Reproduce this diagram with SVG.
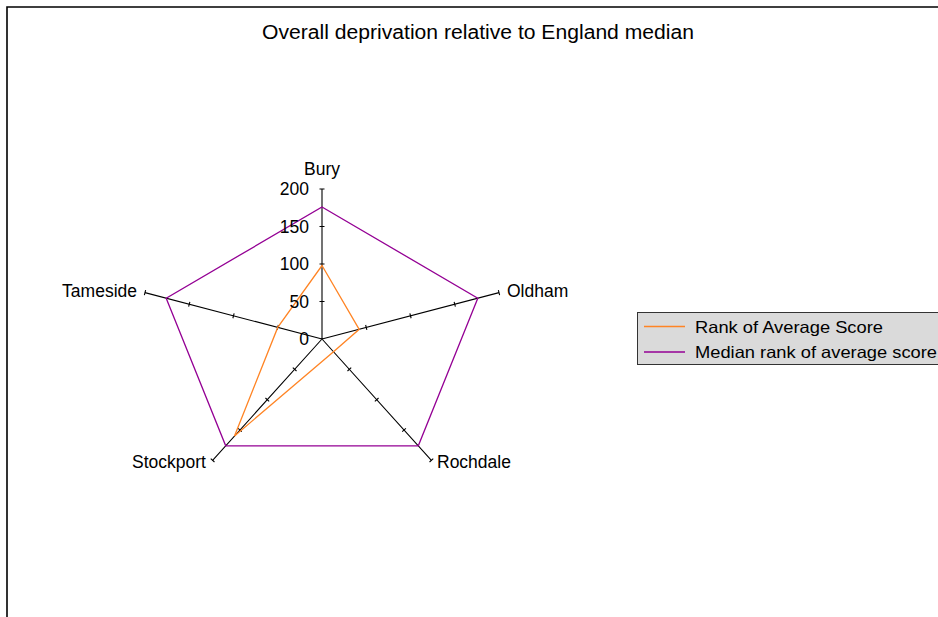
<svg xmlns="http://www.w3.org/2000/svg" width="938" height="617" viewBox="0 0 938 617">
<style>
text{font-family:"Liberation Sans",Arial,sans-serif;fill:#000}
.lbl{font-size:17.5px}
.num{font-size:17.5px;text-anchor:end}
.axis{stroke:#000;stroke-width:1.1;fill:none}
.tick{stroke:#000;stroke-width:1.1;fill:none}
.s1{stroke:#ff8424;stroke-width:1.3;fill:none;stroke-linejoin:miter}
.s2{stroke:#940094;stroke-width:1.3;fill:none}
</style>
<rect width="938" height="617" fill="#fff"/>
<g id="frame"><path d="M7 617V7H938" stroke="#000" stroke-width="1.6" fill="none"/></g>
<g id="title"><text x="478" y="39" font-size="20" text-anchor="middle" textLength="432" lengthAdjust="spacingAndGlyphs">Overall deprivation relative to England median</text></g>
<g id="connectors">
<path class="axis" d="M322 339V189M322 339L499 292.65M322 339L431.4 460.35M322 339L212.6 460.35M322 339L145 292.65"/>
<path class="tick" d="M319.5 301.5h5M319.5 264h5M319.5 226.5h5M319.5 189h5
M365.62 324.99l1.26 4.84M409.87 313.41l1.26 4.84M454.12 301.82l1.26 4.84M498.37 290.23l1.26 4.84
M347.49 371.02l3.72 -3.36M374.84 401.36l3.72 -3.36M402.19 431.69l3.72 -3.36M429.54 462.03l3.72 -3.36
M292.79 367.66l3.72 3.36M265.44 398l3.72 3.36M238.09 428.33l3.72 3.36M210.74 458.67l3.72 3.36
M277.12 329.83l1.26 -4.84M232.87 318.25l1.26 -4.84M188.62 306.66l1.26 -4.84M144.37 295.07l1.26 -4.84"/>
<polygon class="s2" points="322,207 477.8,298.2 418.3,445.8 225.7,445.8 166.2,298.2"/>
<polygon class="s1" points="322,265.5 359.2,329.3 333.5,351.7 234.5,436.1 277.75,327.4"/>
</g>
<g id="scale">
<text class="num" x="309" y="195">200</text>
<text class="num" x="309" y="233">150</text>
<text class="num" x="309" y="270">100</text>
<text class="num" x="309" y="308">50</text>
<text class="num" x="309" y="345">0</text>
</g>
<g id="bury"><text class="lbl" x="322" y="175" text-anchor="middle">Bury</text></g>
<g id="oldham"><text class="lbl" x="507" y="297">Oldham</text></g>
<g id="rochdale"><text class="lbl" x="437" y="468">Rochdale</text></g>
<g id="stockport"><text class="lbl" x="206" y="468" text-anchor="end">Stockport</text></g>
<g id="tameside"><text class="lbl" x="137" y="297" text-anchor="end">Tameside</text></g>
<g id="legend">
<rect x="637.5" y="312.5" width="310" height="52" fill="#dadada" stroke="#333" stroke-width="1"/>
<path class="s1" d="M644 326.5H685"/>
<path class="s2" d="M644 352H685"/>
<text x="695" y="332.5" font-size="16.5" textLength="188" lengthAdjust="spacingAndGlyphs">Rank of Average Score</text>
<text x="695" y="358" font-size="16.5" textLength="242" lengthAdjust="spacingAndGlyphs">Median rank of average score</text>
</g>
</svg>
